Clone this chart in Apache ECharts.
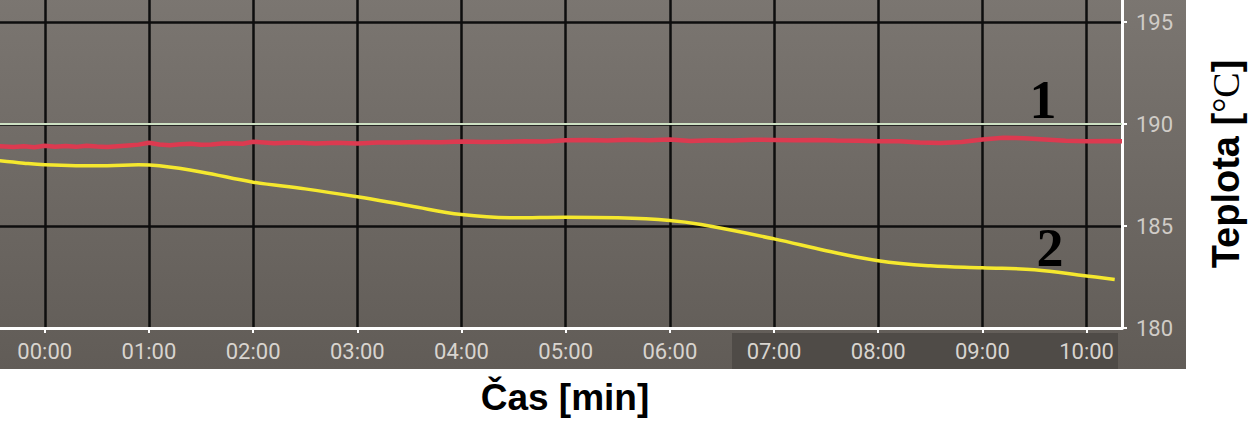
<!DOCTYPE html>
<html><head><meta charset="utf-8">
<script src="https://cdn.jsdelivr.net/npm/echarts@6/dist/echarts.min.js"></script>
<style>html,body{margin:0;padding:0;background:#fff;overflow:hidden;width:1258px;height:425px}
#c{position:absolute;left:-4px;top:-4px;width:1262px;height:429px}</style>
</head><body><div id="c"></div>
<script>
// ---- data ----
const xTickLabels = ['00:00','01:00','02:00','03:00','04:00','05:00','06:00','07:00','08:00','09:00','10:00'];
const yTickValues = [180, 185, 190, 195];
const refLineValue = 190;
const seriesLabels = ['1', '2'];

// series 1 (red) : time in minutes, temperature
const redTimes = [-0.47,-0.3,-0.2,-0.1,0.0,0.1,0.2,0.3,0.4,0.5,0.6,0.7,0.8,0.9,1.0,1.1,1.2,1.3,1.4,1.5,1.6,1.7,1.8,1.9,2.0,2.2,2.4,2.6,2.8,3.0,3.2,3.4,3.6,3.8,4.0,4.2,4.4,4.6,4.8,5.0,5.2,5.4,5.6,5.8,6.0,6.2,6.4,6.6,6.8,7.0,7.2,7.4,7.6,7.8,8.0,8.2,8.4,8.6,8.8,9.0,9.2,9.4,9.6,9.8,10.0,10.2,10.34];
const redValues = [188.92,188.87,188.91,188.86,188.93,188.89,188.92,188.88,188.94,188.90,188.87,188.91,188.95,188.99,189.08,189.00,188.96,189.01,189.03,188.98,189.00,189.04,189.06,189.03,189.13,189.06,189.09,189.05,189.08,189.05,189.09,189.10,189.12,189.11,189.14,189.12,189.13,189.15,189.14,189.20,189.22,189.19,189.23,189.21,189.24,189.17,189.21,189.19,189.23,189.22,189.20,189.22,189.19,189.18,189.16,189.15,189.09,189.07,189.12,189.24,189.33,189.30,189.24,189.18,189.15,189.17,189.16];

// series 2 (yellow)
const yellowTimes = [-0.47,-0.2,0.0,0.3,0.6,0.9,1.1,1.5,2.0,2.5,3.0,3.5,4.0,4.5,5.0,5.5,6.0,6.3,7.0,7.5,8.0,8.5,9.0,9.5,10.0,10.27];
const yellowValues = [188.22,188.08,188.00,187.96,187.96,188.00,187.95,187.65,187.15,186.82,186.43,185.99,185.56,185.40,185.43,185.40,185.27,185.07,184.37,183.79,183.30,183.05,182.95,182.86,182.55,182.38];

// ---- chart ----
const OFF = 4; // container is shifted by OFF px so the plot edge lines fall outside the page
const chart = echarts.init(document.getElementById('c'), null, {renderer: 'svg'});
const zip = (a, b) => a.map((t, i) => [t, b[i]]);

chart.setOption({
  animation: false,
  backgroundColor: '#ffffff',
  grid: {left: 0, right: 136, top: 0, bottom: 97, containLabel: false},
  xAxis: {
    type: 'value', min: -0.468, max: 10.34, minInterval: 1, maxInterval: 1, splitNumber: 11,
    axisLine: {show: true, onZero: false, lineStyle: {color: '#ffffff', width: 3}},
    axisTick: {show: true, length: 5, lineStyle: {color: '#ffffff', width: 2}},
    axisLabel: {
      color: '#d8d4cf', fontSize: 22, fontFamily: 'Roboto', margin: 12,
      showMinLabel: false, showMaxLabel: false,
      formatter: v => {
        const r = Math.round(v);
        return (Math.abs(v - r) < 1e-6 && r >= 0 && r < xTickLabels.length) ? xTickLabels[r] : '';
      }
    },
    splitLine: {show: true, lineStyle: {color: '#0e0e0e', width: 2.5}}
  },
  yAxis: {
    type: 'value', position: 'right', min: 180, max: 196.276, interval: 5,
    axisLine: {show: true, onZero: false, lineStyle: {color: '#ffffff', width: 3}},
    axisTick: {show: true, length: 5, lineStyle: {color: '#ffffff', width: 2}},
    axisLabel: {
      color: '#d0ccc7', fontSize: 22, fontFamily: 'Roboto', margin: 14,
      showMaxLabel: false,
      formatter: v => yTickValues.includes(v) ? String(v) : ''
    },
    splitLine: {show: true, lineStyle: {color: '#0e0e0e', width: 2.5}}
  },
  series: [
    {
      name: seriesLabels[0], type: 'line', data: zip(redTimes, redValues),
      showSymbol: false, smooth: false,
      lineStyle: {color: '#dc3a50', width: 4.5},
      z: 3,
      markLine: {
        silent: true, symbol: 'none', label: {show: false},
        lineStyle: {color: '#cde0c3', width: 2, type: 'solid'},
        data: [{yAxis: refLineValue}]
      }
    },
    {
      name: seriesLabels[1], type: 'line', data: zip(yellowTimes, yellowValues),
      showSymbol: false, smooth: 0.4,
      lineStyle: {color: '#f5e82e', width: 3.5},
      z: 4
    }
  ],
  graphic: [
    {type: 'rect', z: -10, silent: true, shape: {x: 0, y: 0, width: 1186 + OFF, height: 369 + OFF},
      style: {fill: new echarts.graphic.LinearGradient(0, 0, 0, 1, [
        {offset: 0, color: '#7b7671'}, {offset: 1, color: '#615c57'}])}},
    {type: 'rect', z: -9, silent: true, shape: {x: 732 + OFF, y: 333 + OFF, width: 386, height: 36},
      style: {fill: '#4f4b47'}},
    {type: 'text', z: 100, x: 565 + OFF, y: 397 + OFF, silent: true,
      style: {text: 'Čas [min]', fill: '#000', font: 'bold 37px "Liberation Sans", Arial, sans-serif',
        textAlign: 'center', textVerticalAlign: 'middle'}},
    {type: 'text', z: 100, x: 1226 + OFF, y: 164 + OFF, rotation: Math.PI / 2, silent: true,
      style: {text: '{a|Teplota [}{b|°C}{a|]}', textAlign: 'center', textVerticalAlign: 'middle',
        rich: {
          a: {fill: '#000', font: 'bold 38px "Liberation Sans", Arial, sans-serif'},
          b: {fill: '#000', font: '38px "Liberation Serif", serif'}
        }}},
    {type: 'text', z: 100, x: 1043 + OFF, y: 100 + OFF, silent: true,
      style: {text: seriesLabels[0], fill: '#000', font: 'bold 54px "Liberation Serif", serif',
        textAlign: 'center', textVerticalAlign: 'middle'}},
    {type: 'text', z: 100, x: 1050 + OFF, y: 248 + OFF, silent: true,
      style: {text: seriesLabels[1], fill: '#000', font: 'bold 54px "Liberation Serif", serif',
        textAlign: 'center', textVerticalAlign: 'middle'}}
  ]
});
</script>
</body></html>
